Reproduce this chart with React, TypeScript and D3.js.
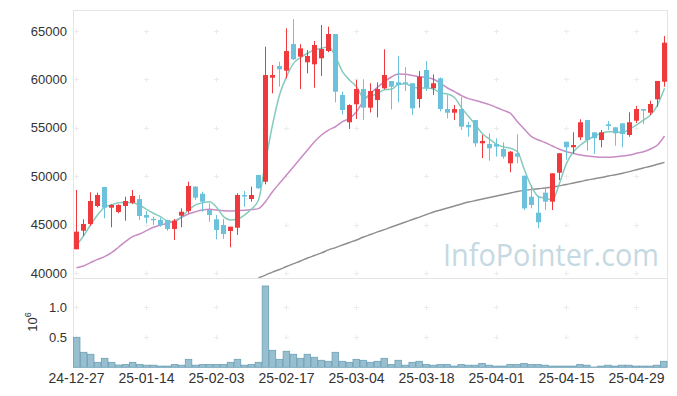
import React from 'react';
import * as d3 from 'd3';

// x-axis tick labels, one every 10 trading days
const tickLabels = ['24-12-27', '25-01-14', '25-02-03', '25-02-17', '25-03-04', '25-03-18', '25-04-01', '25-04-15', '25-04-29'];

const opens = [
  42450, 44370, 45060, 46920, 48880, 46750, 46300, 46920, 47260, 47640,
  45990, 45580, 45480, 45480, 44550, 45920, 46400, 48920, 48190, 46510,
  45550, 44960, 44340, 44680, 48060, 47640, 50120, 49430, 60180, 61380,
  60900, 63660, 62350, 61770, 61560, 62180, 62930, 64690, 58390, 55570,
  57430, 59010, 57080, 57870, 59080, 59830, 59700, 59700, 59600, 57970,
  60970, 59080, 60110, 56940, 56560, 56940, 55290, 55800, 53400, 53330,
  53330, 52810, 51330, 52360, 50050, 47880, 46230, 48300, 47370, 50360,
  53560, 52990, 54020, 55800, 54530, 53740, 55360, 55050, 55460, 54260,
  55730, 56940, 56560, 57940, 59760,
];
const highs = [
  48570, 45550, 48340, 48300, 48880, 47100, 47100, 47880, 48570, 48060,
  46400, 45820, 45720, 45480, 45580, 46680, 49430, 48990, 48400, 47200,
  45990, 45580, 44780, 48230, 48470, 48920, 50150, 63380, 61490, 61830,
  65280, 66240, 63630, 63040, 63970, 65620, 65450, 64690, 58730, 57430,
  59940, 60010, 59600, 59700, 63110, 59830, 62420, 61280, 59600, 60870,
  61900, 60520, 60200, 58390, 57350, 58210, 55630, 55800, 54260, 54430,
  53920, 53500, 52600, 54330, 50050, 49090, 47990, 48920, 50300, 52370,
  53560, 54540, 55880, 55800, 54530, 54770, 55700, 55050, 55460, 56600,
  57250, 56940, 57800, 59840, 64480,
];
const lows = [
  42450, 43820, 44860, 46790, 45650, 44720, 46170, 45400, 47130, 45480,
  45130, 44960, 44780, 44370, 43410, 44720, 46170, 47540, 46330, 45300,
  43480, 43510, 42660, 43930, 46850, 47370, 48700, 49160, 58560, 59250,
  60110, 62000, 59000, 60630, 59140, 60350, 62800, 57630, 56390, 54880,
  55910, 55810, 56580, 56080, 58980, 56900, 57630, 58800, 56320, 57080,
  58800, 58390, 56700, 55980, 55800, 54770, 54080, 53050, 51880, 51600,
  52020, 51800, 50400, 51330, 46500, 46680, 44620, 46510, 46510, 49600,
  51700, 52290, 53740, 52640, 52290, 52980, 54770, 53150, 52980, 54080,
  55500, 55400, 56320, 57150, 59250,
];
const closes = [
  44270, 45060, 47440, 48060, 46750, 47030, 47030, 47440, 47950, 45890,
  45720, 45450, 44960, 44550, 45400, 46330, 48990, 47780, 47370, 45990,
  44440, 44030, 44780, 48060, 47900, 48060, 48750, 60450, 60450, 61040,
  62930, 62080, 63210, 62420, 63550, 63140, 64690, 58730, 56840, 57350,
  59010, 57080, 58800, 59010, 60450, 59250, 59420, 59550, 57010, 60280,
  59140, 59600, 56940, 56560, 56940, 55120, 55050, 53400, 53640, 52880,
  53050, 52020, 52530, 52020, 46680, 47030, 45240, 47370, 50300, 52370,
  52990, 53220, 55570, 53740, 53920, 54530, 55190, 54430, 54360, 55570,
  56940, 56770, 57460, 59840, 63790,
];
const volumes = [
  500000, 250000, 217000, 83000, 150000, 83000, 38000, 45000, 83000, 45000,
  35000, 35000, 20000, 20000, 45000, 35000, 133000, 35000, 45000, 45000,
  45000, 45000, 83000, 133000, 35000, 45000, 83000, 1355000, 283000, 133000,
  267000, 217000, 150000, 217000, 167000, 117000, 100000, 250000, 100000, 83000,
  133000, 117000, 83000, 100000, 150000, 45000, 117000, 35000, 83000, 100000,
  45000, 35000, 45000, 45000, 20000, 45000, 35000, 35000, 65000, 35000,
  20000, 20000, 45000, 45000, 65000, 45000, 45000, 35000, 20000, 20000,
  20000, 20000, 45000, 35000, 5000, 20000, 35000, 20000, 35000, 35000,
  20000, 20000, 20000, 35000, 100000,
];
const ma5 = [
  42890, 43820, 44960, 45990, 46790, 47030, 47260, 47300, 47260, 47030,
  46580, 46170, 45820, 45370, 45300, 45820, 46510, 47030, 47260, 47370,
  46800, 45820, 45480, 45580, 45990, 46610, 47540, 51500, 55290, 58390,
  60280, 61660, 62240, 62700, 63040, 63210, 63380, 62350, 60800, 59940,
  59250, 58130, 58250, 58560, 58940, 58970, 59500, 59560, 59250, 59120,
  59110, 59000, 58600, 58500, 58130, 57060, 56200, 55290, 54380, 53830,
  53310, 53020, 52880, 52530, 50640, 48920, 47880, 47720, 47540, 49270,
  51330, 52530, 53220, 53740, 54150, 54430, 54600, 54600, 54500, 54840,
  55290, 55800, 56320, 57350, 59080,
];
const ma20 = [
  40550, 40720, 41070, 41410, 41690, 42100, 42660, 43240, 43750, 44030,
  44370, 44720, 44960, 45130, 45370, 45750, 46100, 46330, 46510, 46580,
  46510, 46440, 46400, 46450, 46480, 46550, 46650, 47370, 48400, 49270,
  50120, 50980, 51850, 52700, 53560, 54260, 54770, 55110, 55630, 55980,
  56660, 57780, 58560, 59180, 59760, 60250, 60560, 60520, 60400, 60280,
  60170, 60020, 59590, 59110, 58730, 58330, 58010, 57830, 57610, 57390,
  57100, 56800, 56490, 55630, 54840, 54080, 53740, 53460, 53120, 52780,
  52530, 52360, 52190, 52090, 52020, 51950, 51950, 52020, 52090, 52190,
  52360, 52530, 52810, 53220, 54150,
];
const ma60 = [
  null, null, null, null, null, null, null, null, null, null,
  null, null, null, null, null, null, null, null, null, null,
  null, null, null, null, null, null, 39500, 39790, 40100, 40360,
  40670, 40960, 41240, 41550, 41810, 42070, 42380, 42630, 42890, 43150,
  43410, 43720, 43980, 44240, 44490, 44750, 45010, 45270, 45530, 45780,
  46040, 46300, 46510, 46710, 46920, 47130, 47330, 47490, 47640, 47800,
  47950, 48110, 48260, 48420, 48540, 48630, 48710, 48780, 48880, 49010,
  49140, 49300, 49450, 49610, 49740, 49870, 50020, 50150, 50300, 50480,
  50670, 50850, 51030, 51230, 51430,
];

const priceTicks = [40000, 45000, 50000, 55000, 60000, 65000];
const volTicks = [0.5e6, 1e6];

const W = 677;
const H = 396;
const left = 73;
const right = 667;
const top = 10;
const split = 278;
const bottom = 367.3;

const UP = '#ee3a3c';
const DOWN = '#6cc2da';
const FONT = '"Liberation Sans", Arial, sans-serif';

export default function App() {
  const idx = d3.range(closes.length);
  const x = d3.scaleBand<number>().domain(idx).range([left, right]);
  const bw = x.bandwidth();
  const cx = (i: number) => Math.round(x(i)! + bw / 2) + 0.5;

  const y = d3.scaleLinear().domain([40000, 65000]).range([273, 31]);
  const yv = d3.scaleLinear().domain([0, 1e6]).range([bottom, 307.3]);

  const line = d3.line<number | null>()
    .defined(d => d != null)
    .x((_, i) => cx(i))
    .y(d => y(d as number))
    .curve(d3.curveMonotoneX);

  const xTickIdx = tickLabels.map((_, k) => k * 10);
  const crossYs = [...priceTicks.map(v => y(v)), ...volTicks.map(v => yv(v))];

  return (
    <svg width={W} height={H} style={{ position: 'absolute', left: 0, top: 0, background: '#fff' }}
      fontFamily={FONT}>
      <defs>
        <clipPath id="pricePanel">
          <rect x={left} y={top} width={right - left} height={split - top} />
        </clipPath>
      </defs>

      {/* frame */}
      <g stroke="#e4e4e4" fill="none">
        <line x1={left} x2={right} y1={top + 0.5} y2={top + 0.5} />
        <line x1={left} x2={right} y1={split + 0.5} y2={split + 0.5} />
        <line x1={left + 0.5} x2={left + 0.5} y1={top} y2={bottom} />
        <line x1={right + 0.5} x2={right + 0.5} y1={top} y2={bottom} />
      </g>

      {/* grid crosses */}
      <g stroke="#ececec">
        {xTickIdx.map(i => crossYs.map((cy, j) => (
          <g key={`${i}-${j}`}>
            <line x1={cx(i) - 2.5} x2={cx(i) + 2.5} y1={Math.round(cy) + 0.5} y2={Math.round(cy) + 0.5} />
            <line x1={cx(i)} x2={cx(i)} y1={Math.round(cy) - 2} y2={Math.round(cy) + 3} />
          </g>
        )))}
        {crossYs.map((cy, j) => (
          <line key={j} x1={left} x2={left + 4} y1={Math.round(cy) + 0.5} y2={Math.round(cy) + 0.5} />
        ))}
      </g>

      {/* watermark */}
      <text x={443} y={266} fontSize={31} fill="#c5d9e2" textLength={216} lengthAdjust="spacingAndGlyphs"
        fontFamily='"Open Sans", sans-serif'>InfoPointer.com</text>

      <g clipPath="url(#pricePanel)">
        {/* moving averages */}
        <path d={line(ma60) || ''} fill="none" stroke="#8e8e8e" strokeWidth={1.4} />
        <path d={line(ma20) || ''} fill="none" stroke="#c88cc4" strokeWidth={1.5} />
        <path d={line(ma5) || ''} fill="none" stroke="#86cbbd" strokeWidth={1.5} />

        {/* candles */}
        {idx.map(i => {
          const up = closes[i] >= opens[i];
          const c = up ? UP : DOWN;
          const y0 = y(Math.max(opens[i], closes[i]));
          const y1 = y(Math.min(opens[i], closes[i]));
          return (
            <g key={i}>
              <line x1={cx(i)} x2={cx(i)} y1={y(highs[i])} y2={y(lows[i])} stroke={c} strokeWidth={1} />
              <rect x={cx(i) - 2.5} y={y0} width={5} height={Math.max(1, y1 - y0)} fill={c} />
            </g>
          );
        })}
      </g>

      {/* volume */}
      <g>
        {idx.map(i => (
          <rect key={i} x={x(i)! + 0.5} y={yv(volumes[i])} width={bw - 0.5}
            height={bottom - yv(volumes[i])} fill="#98bfcf" stroke="#6b9fb5" strokeWidth={0.8} />
        ))}
      </g>

      {/* price axis labels */}
      <g fontSize={13} fill="#333" textAnchor="end">
        {priceTicks.map(v => (
          <text key={v} x={67} y={y(v)} dy="0.36em">{v}</text>
        ))}
        {volTicks.map(v => (
          <text key={v} x={67} y={yv(v)} dy="0.36em">{(v / 1e6).toFixed(1)}</text>
        ))}
      </g>
      <text transform="translate(37,322) rotate(-90)" fontSize={13} fill="#333" textAnchor="middle">
        10<tspan fontSize={9} dy={-6}>6</tspan>
      </text>

      {/* date labels */}
      <g fontSize={14} fill="#333" textAnchor="middle">
        {xTickIdx.map((i, k) => (
          <text key={k} x={cx(i)} y={383}>{tickLabels[k]}</text>
        ))}
      </g>
    </svg>
  );
}
